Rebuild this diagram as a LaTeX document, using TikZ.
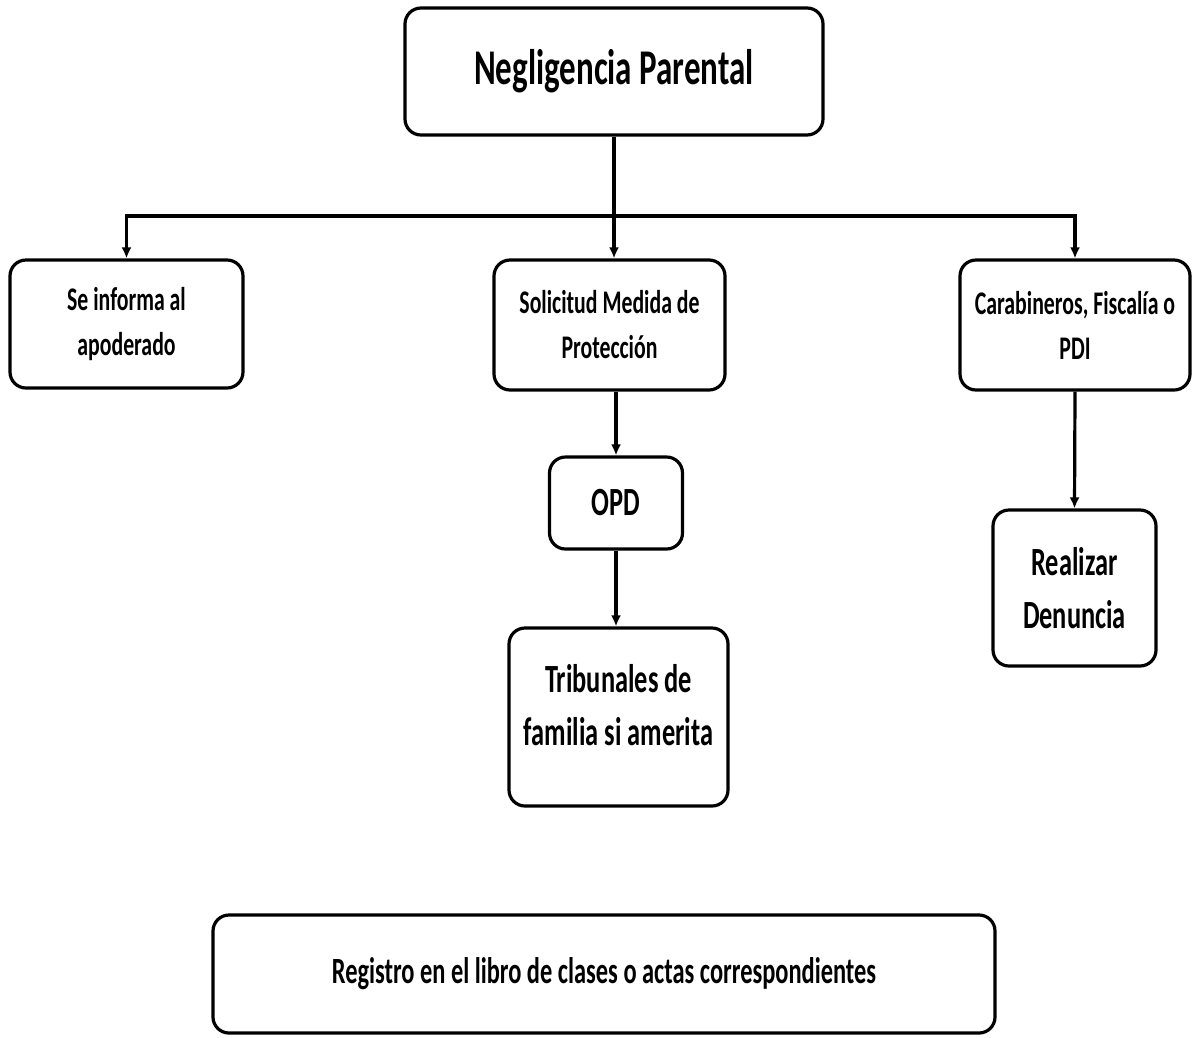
\documentclass[tikz,border=0pt]{standalone}
\usepackage{fontspec}
\setmainfont{Carlito}[FakeStretch=0.66]
\usetikzlibrary{arrows.meta,positioning}
\begin{document}
\begin{tikzpicture}[x=1pt,y=-1pt,
    caja/.style={draw,rectangle,rounded corners=16pt,line width=3.2pt,align=center,inner sep=0pt},
    chico/.style={font=\bfseries\fontsize{33}{45}\selectfont},
    grande/.style={font=\bfseries\fontsize{40}{53}\selectfont},
    flecha/.style={-{Latex[length=11pt,width=10pt]},line width=3.2pt}]
   \useasboundingbox (0,0) rectangle (1196,1037);
   \node[caja,minimum width=418pt,minimum height=127pt,font=\bfseries\fontsize{50}{60}\selectfont] (neg) at (614,71.5) {Negligencia Parental};
   \node[caja,chico,minimum width=233pt,minimum height=128pt] (apo) at (126.5,324) {Se informa al\\apoderado};
   \node[caja,chico,minimum width=231pt,minimum height=130pt] (sol) at (609.5,325) {Solicitud Medida de\\Protección};
   \node[caja,chico,minimum width=230pt,minimum height=130pt] (car) at (1075,325) {Carabineros, Fiscalía o\\PDI};
   \node[caja,grande,minimum width=133pt,minimum height=92pt] (opd) at (616,503) {OPD};
   \node[caja,grande,minimum width=219pt,minimum height=178pt,text depth=24pt] (trib) at (618.5,717) {Tribunales de\\familia si amerita};
   \node[caja,grande,minimum width=163pt,minimum height=156pt] (den) at (1074.5,588) {Realizar\\Denuncia};
   \node[caja,font=\bfseries\fontsize{37}{45}\selectfont,minimum width=782pt,minimum height=118pt] (reg) at (604,974) {Registro en el libro de clases o actas correspondientes};
   \coordinate (split) at (614,216);
   \draw[line width=3.2pt] (neg.south) -- (split);
   \draw[flecha] (split) -| (apo.north);
   \draw[flecha] (split) -- (split |- sol.north);
   \draw[flecha] (split) -| (car.north);
   \draw[flecha] (opd.north |- sol.south) -- (opd.north);
   \draw[flecha] (opd.south) -- (opd.south |- trib.north);
   \draw[flecha] (car.south) -- (den.north);
\end{tikzpicture}
\end{document}
